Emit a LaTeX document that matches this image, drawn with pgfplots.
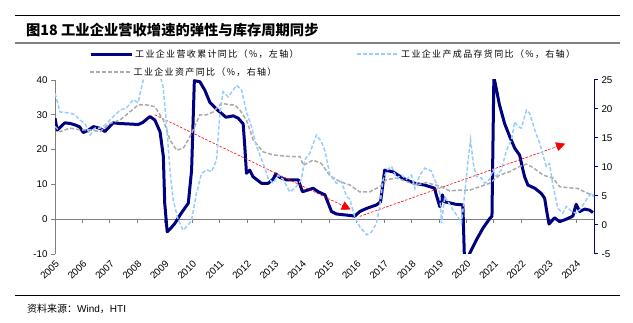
\documentclass[border=0pt]{standalone}
\usepackage{pgfplots}
\pgfplotsset{compat=1.18}
\usepackage{fontspec}
\setmainfont{Liberation Sans}
\newfontfamily\cjk{Noto Sans CJK SC}
\newfontfamily\cjkl[LetterSpace=15]{Noto Sans CJK SC}
\usetikzlibrary{arrows.meta}
\definecolor{navy}{RGB}{0,0,128}
\definecolor{lblue}{RGB}{153,204,255}
\definecolor{lgray}{RGB}{170,170,170}
\definecolor{axgray}{RGB}{128,128,128}

\begin{document}
\begin{tikzpicture}[x=1pt,y=1pt]
\useasboundingbox (0,0) rectangle (633,323);
\draw[black, line width=0.8pt] (15,307.5) -- (620,307.5);
\node[anchor=west, inner sep=0pt, font=\cjk\bfseries\fontsize{14.3}{16}\selectfont] at (26,293) {图18 工业企业营收增速的弹性与库存周期同步};
\draw[axgray, line width=1.6pt] (15,280) -- (620,280);
\draw[black, line width=0.8pt] (15,27.5) -- (620,27.5);
\node[anchor=west, inner sep=0pt, font=\fontsize{10}{12}\selectfont] at (27,14) {{\cjk 资料来源：}Wind{\cjk ，}HTI};

\begin{axis}[
  at={(55pt,69pt)}, anchor=south west, scale only axis,
  width=539pt, height=174pt,
  xmin=2005, xmax=2024.65, ymin=-10, ymax=40,
  axis x line*=bottom, axis y line*=left,
  x axis line style={draw=none}, xtick style={draw=none},
  y axis line style={axgray, line width=0.8pt},
  ytick style={axgray, line width=0.8pt},
  tick align=outside, major tick length=4pt,
  xtick={2005,2006,...,2024},
  xticklabels={2005,2006,2007,2008,2009,2010,2011,2012,2013,2014,2015,2016,2017,2018,2019,2020,2021,2022,2023,2024},
  xticklabel style={rotate=45, anchor=north east, inner sep=1pt, font=\fontsize{9.8}{11}\selectfont},
  ytick={-10,0,10,20,30,40},
  yticklabels={-10,0,10,20,30,40},
  yticklabel style={font=\fontsize{9.8}{11}\selectfont},
  legend columns=2,
  legend cell align=left,
  legend style={at={(axis description cs:0.063,1.149)}, anchor=west, draw=none, fill=none, inner sep=0pt,
    font=\cjkl\fontsize{9}{11}\selectfont,
    /tikz/every even column/.append style={column sep=56pt}},
  legend image code/.code={\draw[#1] (0pt,0pt) -- (41pt,0pt);},
]
\addplot[axgray, line width=0.8pt, forget plot] coordinates {(2005,0) (2024.65,0)};
\addplot[axgray, line width=0.8pt, ycomb, forget plot] coordinates {
(2005,-1.15) (2006,-1.15) (2007,-1.15) (2008,-1.15) (2009,-1.15) (2010,-1.15) (2011,-1.15) (2012,-1.15) (2013,-1.15) (2014,-1.15)
(2015,-1.15) (2016,-1.15) (2017,-1.15) (2018,-1.15) (2019,-1.15) (2020,-1.15) (2021,-1.15) (2022,-1.15) (2023,-1.15) (2024,-1.15)};
\addplot[navy, line width=3pt, line join=round] coordinates {
(2005.0,29) (2005.08,25.6) (2005.2,26.5) (2005.36,27.7) (2005.55,27.5) (2005.73,27.1) (2005.9,26.5)
(2006.03,24.9) (2006.2,25.5) (2006.4,26.6) (2006.64,26.1) (2006.82,25.2) (2007.12,27.7) (2007.35,27.5)
(2007.6,27.4) (2007.85,27.3) (2008.03,27.2) (2008.2,27.8) (2008.46,29.5) (2008.64,28.5) (2008.83,25.1)
(2008.95,18) (2009.0,4.6) (2009.09,-3.6) (2009.2,-2.8) (2009.37,-1.2) (2009.6,1.7) (2009.86,4.6)
(2009.98,14.1) (2010.08,39.8) (2010.28,39.5) (2010.46,37.1) (2010.65,33.5) (2010.95,31.2) (2011.07,30.4)
(2011.23,29.3) (2011.5,29.7) (2011.68,29.0) (2011.86,27.4) (2011.92,20.8) (2011.98,13.2) (2012.1,14.1)
(2012.22,12.2) (2012.53,10.3) (2012.77,10.3) (2012.95,11.5) (2013.05,13.0) (2013.2,12.0) (2013.44,11.3)
(2013.87,11.3) (2014.02,7.9) (2014.23,8.4) (2014.41,8.9) (2014.59,7.9) (2014.84,7.0) (2014.96,4.6)
(2015.08,2.2) (2015.26,1.5) (2015.6,1.2) (2015.93,0.9) (2016.11,2.2) (2016.36,3.1) (2016.72,4.1)
(2016.87,5.0) (2017.02,14.1) (2017.33,13.6) (2017.63,12.0) (2017.9,11.0) (2018.12,10.3) (2018.48,9.8)
(2018.84,8.9) (2018.9,7.0) (2019.03,3.6) (2019.12,7.0) (2019.2,5.0) (2019.39,4.7) (2019.6,4.3)
(2019.87,4.1) (2019.95,-17.7) (2020.12,-9.8) (2020.36,-6.0) (2020.6,-2.6) (2020.85,0.2) (2020.93,0.8)
(2021.0,41) (2021.1,37) (2021.2,33) (2021.39,27.5) (2021.58,23.7) (2021.76,20.4) (2021.94,18.4)
(2022.06,14.1) (2022.12,12.2) (2022.24,9.8) (2022.49,8.9) (2022.73,7.4) (2022.85,6.0) (2022.94,1.7)
(2023.01,-1.4) (2023.21,0.4) (2023.4,-0.7) (2023.64,0.0) (2023.88,0.9) (2024.0,4.3) (2024.13,2.2)
(2024.31,2.9) (2024.49,2.6) (2024.61,1.9)};
\addlegendentry{工业企业营收累计同比（\%，左轴）}
\addlegendimage{lblue, line width=1.5pt, dash pattern=on 4pt off 2pt}
\addlegendentry{工业企业产成品存货同比（\%，右轴）}
\addplot[red, line width=0.6pt, dash pattern=on 2.5pt off 1.5pt, -{Triangle[length=9pt,width=9pt,sep=0pt]}, forget plot] coordinates {(2008.64,30) (2015.78,2.8)};
\addplot[red, line width=0.6pt, dash pattern=on 2.5pt off 1.5pt, -{Triangle[length=9pt,width=9pt,sep=0pt]}, forget plot] coordinates {(2016.11,0.8) (2023.6,21.7)};
\end{axis}

\begin{axis}[
  at={(55pt,69pt)}, anchor=south west, scale only axis,
  width=539pt, height=174pt,
  xmin=2005, xmax=2024.65, ymin=-5, ymax=25,
  axis x line=none, axis y line*=right,
  y axis line style={navy, line width=1pt},
  ytick style={navy, line width=1pt},
  tick align=outside, major tick length=4pt,
  ytick={-5,0,5,10,15,20,25},
  yticklabels={-5,0,5,10,15,20,25},
  yticklabel style={font=\fontsize{9.8}{11}\selectfont},
  legend cell align=left,
  legend style={at={(axis description cs:0.063,1.046)}, anchor=west, draw=none, fill=none, inner sep=0pt,
    font=\cjkl\fontsize{9}{11}\selectfont},
  legend image code/.code={\draw[#1] (0pt,0pt) -- (41pt,0pt);},
]
\addplot[lgray, line width=1.5pt, dash pattern=on 4pt off 2pt] coordinates {
(2005.0,17.0) (2005.18,16.1) (2005.55,16.7) (2005.91,16.4) (2006.28,16.4) (2006.64,16.1) (2007.0,17.5)
(2007.37,18.1) (2007.73,19.5) (2008.03,20.7) (2008.34,20.7) (2008.64,20.4) (2008.95,18.1) (2009.19,14.7)
(2009.43,12.9) (2009.67,13.2) (2009.86,14.7) (2010.04,16.4) (2010.28,19.0) (2010.53,19.0) (2010.77,19.5)
(2011.07,21.0) (2011.38,20.7) (2011.56,20.7) (2011.74,19.8) (2011.98,18.1) (2012.22,14.7) (2012.59,12.6)
(2012.95,12.1) (2013.31,11.9) (2013.68,11.8) (2013.93,11.8) (2014.05,10.3) (2014.41,11.2) (2014.71,10.6)
(2015.02,8.5) (2015.38,7.5) (2015.75,6.9) (2016.11,5.7) (2016.46,5.7) (2016.84,6.6) (2017.08,7.8)
(2017.45,8.1) (2017.81,7.5) (2018.18,6.9) (2018.54,7.3) (2019.03,6.7) (2019.39,5.9) (2019.75,6.0)
(2020.12,6.0) (2020.48,6.6) (2020.85,7.2) (2021.21,8.6) (2021.58,9.2) (2021.94,10.1) (2022.19,10.5)
(2022.43,9.9) (2022.79,8.6) (2023.15,8.1) (2023.4,6.6) (2023.76,6.4) (2024.06,6.3) (2024.31,5.7)
(2024.65,5.0)};
\addlegendentry{工业企业资产同比（\%，右轴）}
\addplot[lblue, line width=1.5pt, dash pattern=on 4pt off 2pt, forget plot] coordinates {
(2005.0,22.7) (2005.18,19.5) (2005.55,19.3) (2005.73,19.0) (2005.91,18.1) (2006.09,17.5) (2006.28,15.5)
(2006.46,16.7) (2006.64,16.7) (2006.82,17.2) (2007.06,18.4) (2007.37,19.8) (2007.61,20.2) (2007.85,21.6)
(2008.03,21.1) (2008.16,23.9) (2008.3,26.5) (2008.5,28) (2008.75,27) (2008.94,23.9) (2009.07,17.0)
(2009.19,9.5) (2009.31,4.3) (2009.49,0.9) (2009.67,-0.9) (2009.86,0.0) (2009.98,0.9) (2010.16,5.5)
(2010.34,8.9) (2010.53,9.5) (2010.71,9.2) (2010.89,11.2) (2011.01,19.3) (2011.13,23.0) (2011.31,22.1)
(2011.5,23.3) (2011.62,24.1) (2011.8,23.3) (2011.98,19.5) (2012.16,17.0) (2012.35,13.5) (2012.59,10.6)
(2012.77,8.1) (2012.95,7.2) (2013.13,8.6) (2013.31,7.9) (2013.56,5.7) (2013.74,6.3) (2013.98,7.8)
(2014.1,11.2) (2014.29,12.4) (2014.53,15.5) (2014.71,14.4) (2014.84,12.8) (2015.02,8.7) (2015.26,7.2)
(2015.44,7.5) (2015.63,4.9) (2015.75,4.4) (2015.93,1.4) (2016.11,-0.3) (2016.36,-1.7) (2016.54,-1.2)
(2016.72,0.3) (2016.84,3.2) (2016.96,7.8) (2017.11,9.5) (2017.27,10.1) (2017.45,8.1) (2017.63,8.6)
(2017.81,7.9) (2018.0,8.6) (2018.12,6.3) (2018.3,8.6) (2018.48,9.8) (2018.72,9.3) (2018.9,7.2)
(2019.03,5.5) (2019.09,0.3) (2019.21,4.9) (2019.33,4.0) (2019.51,2.6) (2019.69,1.4) (2019.82,0.3)
(2019.94,5.5) (2020.06,11.2) (2020.15,14.7) (2020.25,10.6) (2020.36,8.4) (2020.55,8.1) (2020.67,7.2)
(2020.85,7.9) (2020.97,9.5) (2021.09,8.4) (2021.27,9.5) (2021.46,12.9) (2021.64,14.7) (2021.76,17.8)
(2021.88,17.0) (2022.0,16.7) (2022.19,19.8) (2022.31,19.2) (2022.49,16.4) (2022.67,14.1) (2022.91,10.1)
(2023.03,10.6) (2023.15,6.9) (2023.33,2.9) (2023.51,2.0) (2023.64,3.2) (2023.82,2.4) (2024.0,2.0)
(2024.18,2.9) (2024.36,4.3) (2024.55,5.5) (2024.65,4.9)};
\end{axis}
\end{tikzpicture}
\end{document}
